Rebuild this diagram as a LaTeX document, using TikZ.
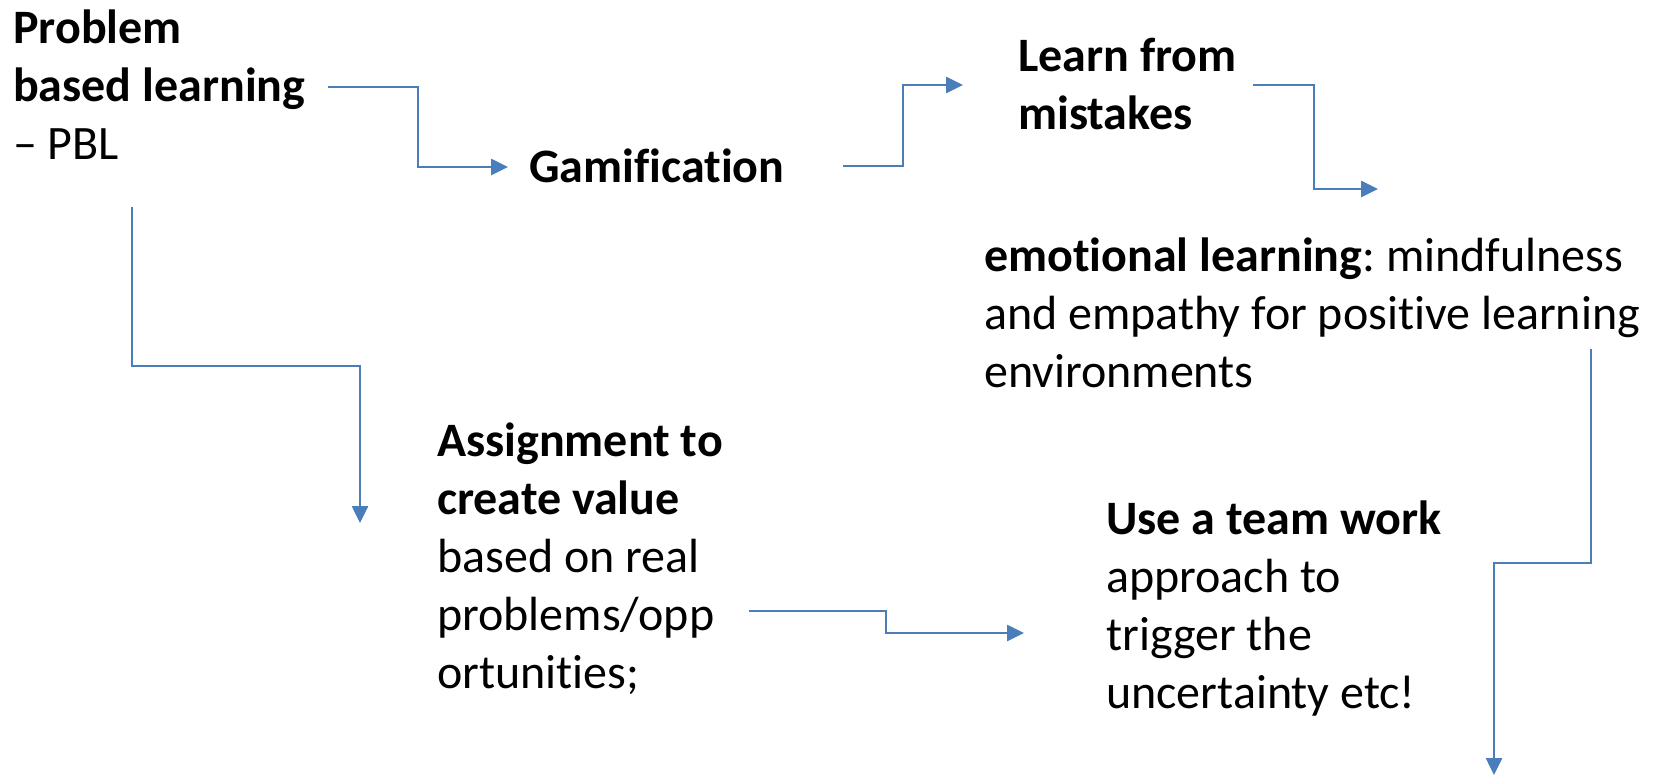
\documentclass[tikz,border=0pt]{standalone}
\usepackage{fontspec}
\setmainfont[Ligatures=NoCommon]{Carlito}
\usetikzlibrary{arrows.meta}
\definecolor{connblue}{RGB}{74,126,187}
\frenchspacing
\begin{document}
\begin{tikzpicture}[x=1pt,y=-1pt,
  lbl/.style={anchor=base west, inner sep=0pt, align=left, font=\fontsize{48}{58}\selectfont},
  conn/.style={draw=connblue, line width=2.6pt, -{Triangle[length=17pt,width=16pt]}}]
\useasboundingbox[fill=white] (0,0) rectangle (1658,776);

% anchor base west = baseline of the last line
\node[lbl] (pbl) at (13,159) {\textbf{Problem}\\\textbf{based learning}\\– PBL};
\node[lbl] (gam) at (529,182) {\textbf{Gamification}};
\node[lbl] (lfm) at (1018,129) {\textbf{Learn from}\\\textbf{mistakes}};
\node[lbl] (emo) at (984,387) {\textbf{emotional learning}: mindfulness\\and empathy for positive learning\\environments};
\node[lbl] (asg) at (437,688) {\textbf{Assignment to}\\\textbf{create value}\\based on real\\problems/opp\\ortunities;};
\node[lbl] (team) at (1106,708) {\textbf{Use a team work}\\approach to\\trigger the\\uncertainty etc!};

\coordinate (c1s) at (328,87);   \coordinate (c1e) at (508,167);
\coordinate (c2s) at (843,166);  \coordinate (c2e) at (963,85);
\coordinate (c3s) at (1253,85);  \coordinate (c3e) at (1378,189);
\coordinate (c4s) at (1591,349); \coordinate (c4e) at (1494,775);
\coordinate (c5s) at (132,207);  \coordinate (c5e) at (360,523);
\coordinate (c6s) at (749,611);  \coordinate (c6e) at (1024,633);

\draw[conn] (c1s) -- ++(90,0) |- (c1e);
\draw[conn] (c2s) -- ++(60,0) |- (c2e);
\draw[conn] (c3s) -- ++(61,0) |- (c3e);
\draw[conn] (c4s) -- ++(0,214) -| (c4e);
\draw[conn] (c5s) -- ++(0,159) -| (c5e);
\draw[conn] (c6s) -- ++(137,0) |- (c6e);
\end{tikzpicture}
\end{document}
